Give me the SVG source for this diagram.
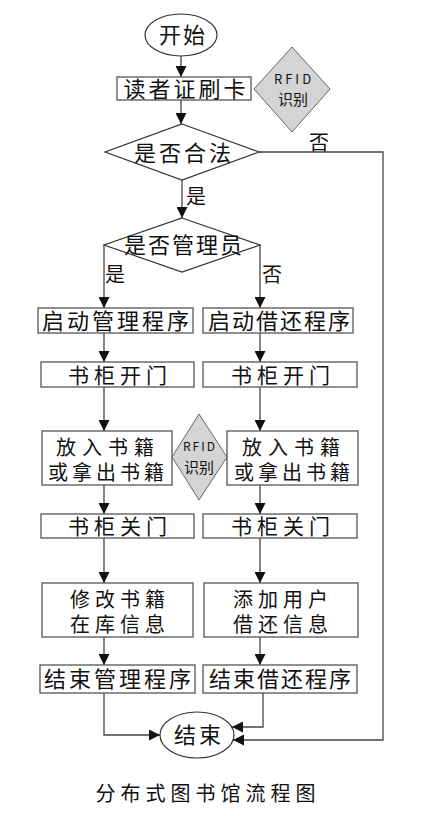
<svg xmlns="http://www.w3.org/2000/svg" width="431" height="816" viewBox="0 0 431 816">
<style>
.bx{fill:#fff;stroke:#555;stroke-width:1.3}
.el{fill:#fff;stroke:#333;stroke-width:1.2}
.dm{fill:#fff;stroke:#333;stroke-width:1.2}
.rf{fill:#d4d4d4;stroke:#666;stroke-width:1}
.t{font-family:"Noto Sans CJK SC","Noto Sans",sans-serif;fill:#111;text-anchor:middle}
.ln{fill:none;stroke:#444;stroke-width:1.3}
</style>
<defs>
<marker id="ah" viewBox="0 0 10 10" refX="10" refY="5" markerWidth="11" markerHeight="11" markerUnits="userSpaceOnUse" orient="auto"><path d="M0,0 L10,5 L0,10 z" fill="#111"/></marker>
</defs>
<rect width="431" height="816" fill="#fff"/>
<g id="connectors">
<path class="ln" d="M181,56 V77" marker-end="url(#ah)"/>
<path class="ln" d="M181,100 V124" marker-end="url(#ah)"/>
<path class="ln" d="M182,180 V218" marker-end="url(#ah)"/>
<path class="ln" d="M104,245 V308" marker-end="url(#ah)"/>
<path class="ln" d="M260,245 V308" marker-end="url(#ah)"/>
<path class="ln" d="M104,333 V362" marker-end="url(#ah)"/>
<path class="ln" d="M260,333 V362" marker-end="url(#ah)"/>
<path class="ln" d="M104,387 V431" marker-end="url(#ah)"/>
<path class="ln" d="M260,387 V431" marker-end="url(#ah)"/>
<path class="ln" d="M104,485 V514" marker-end="url(#ah)"/>
<path class="ln" d="M260,485 V514" marker-end="url(#ah)"/>
<path class="ln" d="M104,538 V583" marker-end="url(#ah)"/>
<path class="ln" d="M260,538 V583" marker-end="url(#ah)"/>
<path class="ln" d="M104,637 V665" marker-end="url(#ah)"/>
<path class="ln" d="M260,637 V665" marker-end="url(#ah)"/>
<path class="ln" d="M104,693 V735 H160" marker-end="url(#ah)"/>
<path class="ln" d="M263,693 V727 H232" marker-end="url(#ah)"/>
<path class="ln" d="M259,152 H383 V740 H233" marker-end="url(#ah)"/>
<text class="t" x="319" y="150" font-size="20">否</text>
<text class="t" x="196" y="204" font-size="20">是</text>
<text class="t" x="115" y="282" font-size="20">是</text>
<text class="t" x="272" y="282" font-size="20">否</text>
</g>
<g id="start">
<ellipse class="el" cx="181" cy="35" rx="36" ry="21"/>
<text class="t" x="183" y="43" font-size="22" letter-spacing="2">开始</text>
</g>
<g id="card">
<rect class="bx" x="117" y="77" width="134" height="23"/>
<text class="t" x="186" y="97" font-size="22" letter-spacing="3">读者证刷卡</text>
</g>
<g id="rfid1">
<path class="rf" d="M292,47 L330,89 L292,132 L254,89 z"/>
<text class="t" x="294" y="84" font-size="13" letter-spacing="3" font-family="Liberation Sans">RFID</text>
<text class="t" x="293" y="105" font-size="15">识别</text>
</g>
<g id="legal">
<path class="dm" d="M182,124 L259,152 L182,180 L105,152 z"/>
<text class="t" x="184" y="161" font-size="22" letter-spacing="3">是否合法</text>
</g>
<g id="admin">
<path class="dm" d="M182,218 L260,245 L182,272 L104,245 z"/>
<text class="t" x="184" y="253" font-size="22" letter-spacing="2">是否管理员</text>
</g>
<g id="startAdmin">
<rect class="bx" x="38" y="308" width="155" height="25"/>
<text class="t" x="117" y="329" font-size="22" letter-spacing="3">启动管理程序</text>
</g>
<g id="startBorrow">
<rect class="bx" x="203" y="308" width="150" height="25"/>
<text class="t" x="280" y="329" font-size="22" letter-spacing="2">启动借还程序</text>
</g>
<g id="openL">
<rect class="bx" x="41" y="362" width="153" height="25"/>
<text class="t" x="120" y="383" font-size="21" letter-spacing="5">书柜开门</text>
</g>
<g id="openR">
<rect class="bx" x="203" y="362" width="154" height="25"/>
<text class="t" x="283" y="383" font-size="21" letter-spacing="5">书柜开门</text>
</g>
<g id="booksL">
<rect class="bx" x="42" y="431" width="130" height="54"/>
<text class="t" x="108" y="455" font-size="20" letter-spacing="6">放入书籍</text>
<text class="t" x="108" y="480" font-size="20" letter-spacing="4">或拿出书籍</text>
</g>
<g id="rfid2">
<path class="rf" d="M199,414 L227,457 L199,500 L172,457 z"/>
<text class="t" x="200" y="451" font-size="12" letter-spacing="2" font-family="Liberation Sans">RFID</text>
<text class="t" x="199" y="473" font-size="15">识别</text>
</g>
<g id="booksR">
<rect class="bx" x="227" y="431" width="131" height="54"/>
<text class="t" x="294" y="455" font-size="20" letter-spacing="6">放入书籍</text>
<text class="t" x="294" y="480" font-size="20" letter-spacing="4">或拿出书籍</text>
</g>
<g id="closeL">
<rect class="bx" x="41" y="514" width="153" height="24"/>
<text class="t" x="120" y="534" font-size="21" letter-spacing="5">书柜关门</text>
</g>
<g id="closeR">
<rect class="bx" x="203" y="514" width="154" height="24"/>
<text class="t" x="283" y="534" font-size="21" letter-spacing="5">书柜关门</text>
</g>
<g id="modifyL">
<rect class="bx" x="42" y="583" width="151" height="54"/>
<text class="t" x="120" y="607" font-size="20" letter-spacing="5">修改书籍</text>
<text class="t" x="120" y="632" font-size="20" letter-spacing="5">在库信息</text>
</g>
<g id="modifyR">
<rect class="bx" x="204" y="583" width="154" height="54"/>
<text class="t" x="283" y="607" font-size="20" letter-spacing="5">添加用户</text>
<text class="t" x="283" y="632" font-size="20" letter-spacing="5">借还信息</text>
</g>
<g id="endAdmin">
<rect class="bx" x="40" y="665" width="155" height="28"/>
<text class="t" x="119" y="687" font-size="22" letter-spacing="3">结束管理程序</text>
</g>
<g id="endBorrow">
<rect class="bx" x="203" y="665" width="154" height="28"/>
<text class="t" x="281" y="687" font-size="22" letter-spacing="2">结束借还程序</text>
</g>
<g id="end">
<ellipse class="el" cx="197" cy="735" rx="37" ry="23"/>
<text class="t" x="199" y="743" font-size="22" letter-spacing="3">结束</text>
</g>
<text class="t" x="208" y="801" font-size="20" letter-spacing="5">分布式图书馆流程图</text>
</svg>
